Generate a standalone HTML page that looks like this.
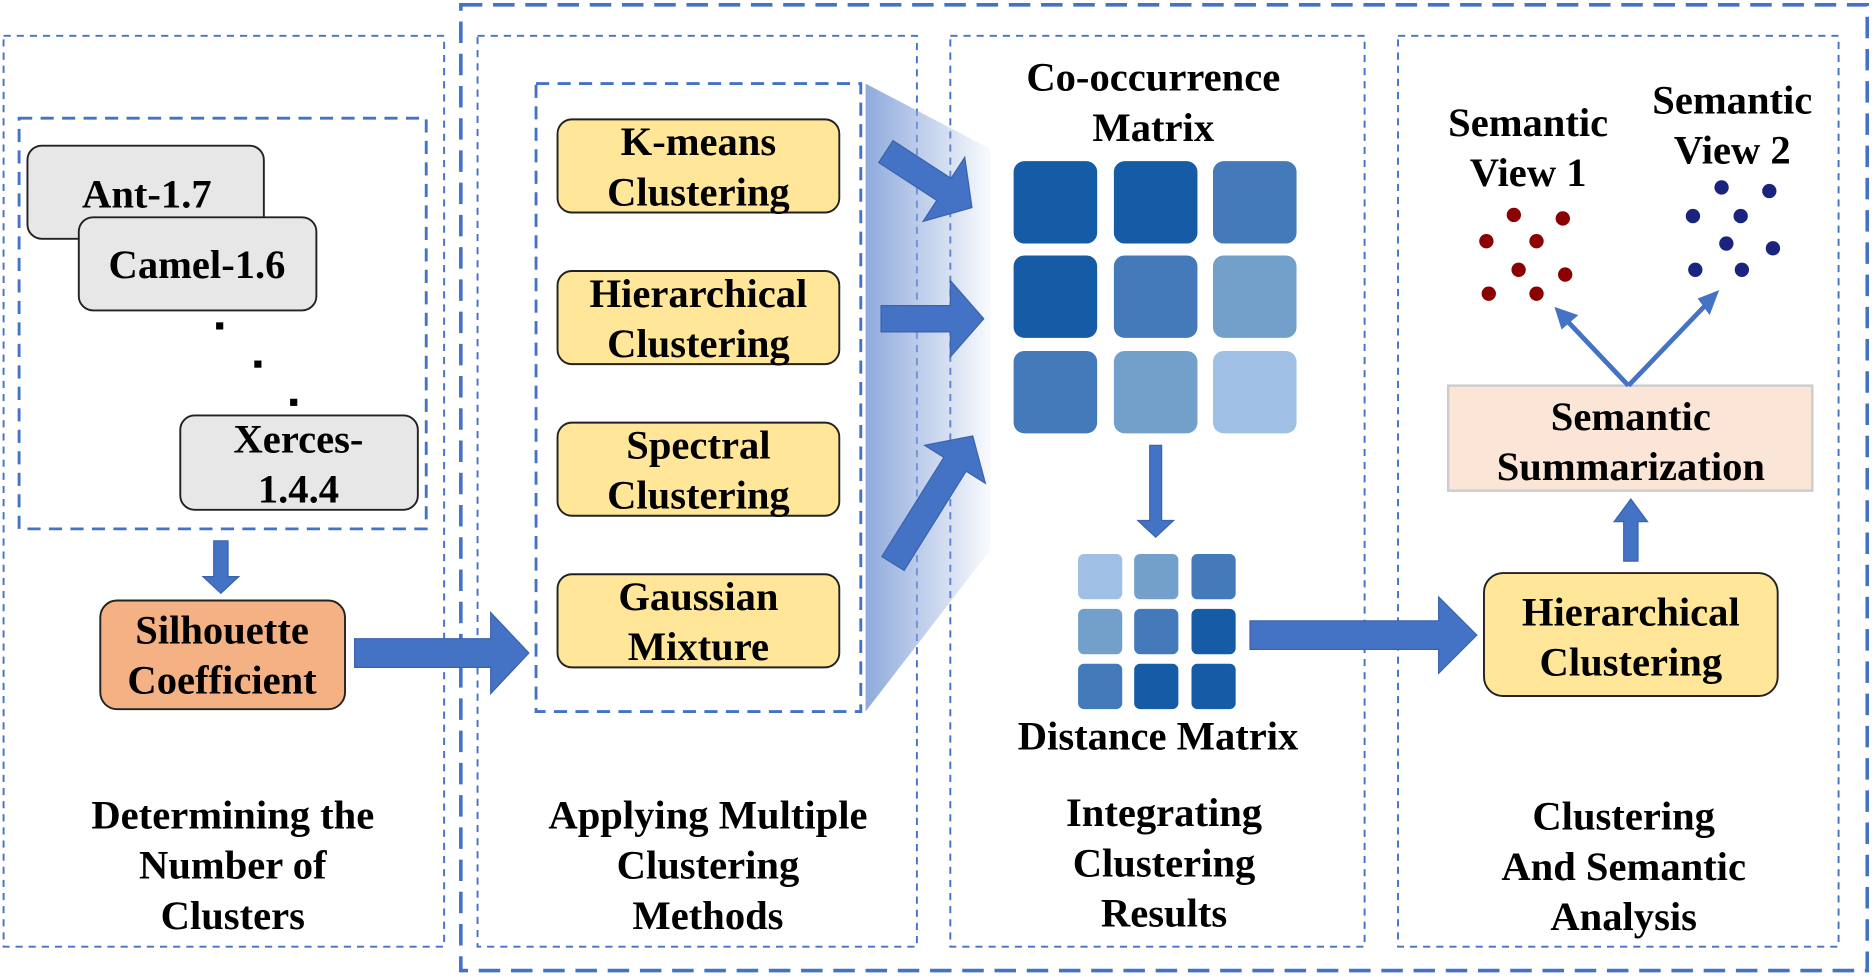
<!DOCTYPE html>
<html><head><style>html,body{margin:0;padding:0;background:#fff;}svg{display:block}</style></head>
<body>
<svg width="1872" height="978" viewBox="0 0 1568 819.2" preserveAspectRatio="none" xmlns="http://www.w3.org/2000/svg" font-family="Liberation Serif, serif" font-weight="bold" font-size="34" text-anchor="middle">
<defs>
<linearGradient id="g" x1="0" x2="1" y1="0" y2="0"><stop offset="0" stop-color="#8faadc"/><stop offset="1" stop-color="#8faadc" stop-opacity="0.05"/></linearGradient>
</defs>
<g fill="none" stroke="#4472C4">
<rect x="386" y="4" width="1178" height="809" stroke-width="3" stroke-dasharray="18,9"/>
<g stroke-width="1.6" stroke-dasharray="6,5">
<rect x="3" y="30" width="369" height="763"/>
<rect x="400" y="30" width="368" height="763"/>
<rect x="796" y="30" width="347" height="763"/>
<rect x="1171" y="30" width="369" height="763"/>
</g>
<g stroke-width="2.4" stroke-dasharray="11,7">
<rect x="16" y="99" width="341" height="344"/>
<rect x="449" y="70" width="272" height="526"/>
</g>
</g>
<polygon points="725,70 830,125 830,460 725,596" fill="url(#g)"/>
<g stroke="#222" stroke-width="1.6">
<rect x="23" y="122" width="198" height="78" rx="12" fill="#e7e7e7"/>
<rect x="66" y="182" width="199" height="78" rx="12" fill="#e7e7e7"/>
<rect x="151" y="348" width="199" height="79" rx="12" fill="#e7e7e7"/>
<rect x="84" y="503" width="205" height="91" rx="14" fill="#F4B183"/>
<rect x="467" y="100" width="236" height="78" rx="12" fill="#FFE699"/>
<rect x="467" y="227" width="236" height="78" rx="12" fill="#FFE699"/>
<rect x="467" y="354" width="236" height="78" rx="12" fill="#FFE699"/>
<rect x="467" y="481" width="236" height="78" rx="12" fill="#FFE699"/>
<rect x="1243" y="480" width="246" height="103" rx="16" fill="#FFE699"/>
</g>
<rect x="1213" y="323" width="305" height="88" fill="#FBE5D6" stroke="#ccc" stroke-width="2"/>
<g fill="#000">
<rect x="181" y="270" width="6" height="6"/><rect x="213" y="302" width="6" height="6"/><rect x="243" y="334" width="6" height="6"/>
</g>
<g fill="#4472C4" stroke="#3a62ad" stroke-width="1">
<polygon points="179,453 191,453 191,483 200,483 185,497 170,483 179,483"/>
<polygon points="297,535 411,535 411,513 443,547 411,581 411,559 297,559"/>
<polygon points="1047,520 1205,520 1205,500 1237,532 1205,564 1205,544 1047,544"/>
<polygon points="963,373 973,373 973,436 983,436 968,450 953,436 963,436"/>
<polygon points="1360,470 1372,470 1372,437 1380,437 1366,418 1352,437 1360,437"/>
<g transform="translate(738,267)"><polygon points="0,-11 58,-11 58,-32 86,0 58,32 58,11 0,11"/></g>
<g transform="translate(742,127) rotate(33)"><polygon points="0,-11 58,-11 58,-32 86,0 58,32 58,11 0,11"/></g>
<g transform="translate(748,472) rotate(-58)"><polygon points="0,-11 98,-11 98,-30 126,0 98,30 98,11 0,11"/></g>
</g>
<g stroke="#4472C4" stroke-width="4" fill="none">
<line x1="1364" y1="323" x2="1310" y2="266"/>
<line x1="1364" y1="323" x2="1432" y2="252"/>
</g>
<g fill="#4472C4">
<polygon points="1302,257 1322,264 1308,276"/>
<polygon points="1440,243 1432,264 1422,250"/>
</g>
<g>
<rect x="849" y="135" width="70" height="69" rx="9" fill="#165BA6"/>
<rect x="933" y="135" width="70" height="69" rx="9" fill="#165BA6"/>
<rect x="1016" y="135" width="70" height="69" rx="9" fill="#4479BA"/>
<rect x="849" y="214" width="70" height="69" rx="9" fill="#165BA6"/>
<rect x="933" y="214" width="70" height="69" rx="9" fill="#4479BA"/>
<rect x="1016" y="214" width="70" height="69" rx="9" fill="#739FCB"/>
<rect x="849" y="294" width="70" height="69" rx="9" fill="#4479BA"/>
<rect x="933" y="294" width="70" height="69" rx="9" fill="#739FCB"/>
<rect x="1016" y="294" width="70" height="69" rx="9" fill="#A0BFE4"/>
<rect x="903" y="464" width="37" height="38" rx="5" fill="#A0BFE4"/>
<rect x="950" y="464" width="37" height="38" rx="5" fill="#739FCB"/>
<rect x="998" y="464" width="37" height="38" rx="5" fill="#4479BA"/>
<rect x="903" y="510" width="37" height="38" rx="5" fill="#739FCB"/>
<rect x="950" y="510" width="37" height="38" rx="5" fill="#4479BA"/>
<rect x="998" y="510" width="37" height="38" rx="5" fill="#165BA6"/>
<rect x="903" y="556" width="37" height="38" rx="5" fill="#4479BA"/>
<rect x="950" y="556" width="37" height="38" rx="5" fill="#165BA6"/>
<rect x="998" y="556" width="37" height="38" rx="5" fill="#165BA6"/>
</g>
<g fill="#8B0000">
<circle cx="1268" cy="180" r="6"/><circle cx="1309" cy="183" r="6"/><circle cx="1245" cy="202" r="6"/><circle cx="1287" cy="202" r="6"/><circle cx="1272" cy="226" r="6"/><circle cx="1311" cy="230" r="6"/><circle cx="1247" cy="246" r="6"/><circle cx="1287" cy="246" r="6"/>
</g>
<g fill="#1a237e">
<circle cx="1442" cy="157" r="6"/><circle cx="1482" cy="160" r="6"/><circle cx="1418" cy="181" r="6"/><circle cx="1458" cy="181" r="6"/><circle cx="1446" cy="204" r="6"/><circle cx="1485" cy="208" r="6"/><circle cx="1420" cy="226" r="6"/><circle cx="1459" cy="226" r="6"/>
</g>
<g fill="#000">
<text x="123" y="174">Ant-1.7</text>
<text x="165" y="233">Camel-1.6</text>
<text x="250" y="379">Xerces-</text>
<text x="250" y="421">1.4.4</text>
<text x="186" y="539">Silhouette</text>
<text x="186" y="581">Coefficient</text>
<text x="585" y="130">K-means</text>
<text x="585" y="172">Clustering</text>
<text x="585" y="257">Hierarchical</text>
<text x="585" y="299">Clustering</text>
<text x="585" y="384">Spectral</text>
<text x="585" y="426">Clustering</text>
<text x="585" y="511">Gaussian</text>
<text x="585" y="553">Mixture</text>
<text x="966" y="76">Co-occurrence</text>
<text x="966" y="118">Matrix</text>
<text x="970" y="628">Distance Matrix</text>
<text x="1366" y="524">Hierarchical</text>
<text x="1366" y="566">Clustering</text>
<text x="1366" y="360">Semantic</text>
<text x="1366" y="402">Summarization</text>
<text x="1280" y="114">Semantic</text>
<text x="1280" y="156">View 1</text>
<text x="1451" y="95">Semantic</text>
<text x="1451" y="137">View 2</text>
<text x="195" y="694">Determining the</text>
<text x="195" y="736">Number of</text>
<text x="195" y="778">Clusters</text>
<text x="593" y="694">Applying Multiple</text>
<text x="593" y="736">Clustering</text>
<text x="593" y="778">Methods</text>
<text x="975" y="692">Integrating</text>
<text x="975" y="734">Clustering</text>
<text x="975" y="776">Results</text>
<text x="1360" y="695">Clustering</text>
<text x="1360" y="737">And Semantic</text>
<text x="1360" y="779">Analysis</text>
</g>
</svg>
</body></html>
